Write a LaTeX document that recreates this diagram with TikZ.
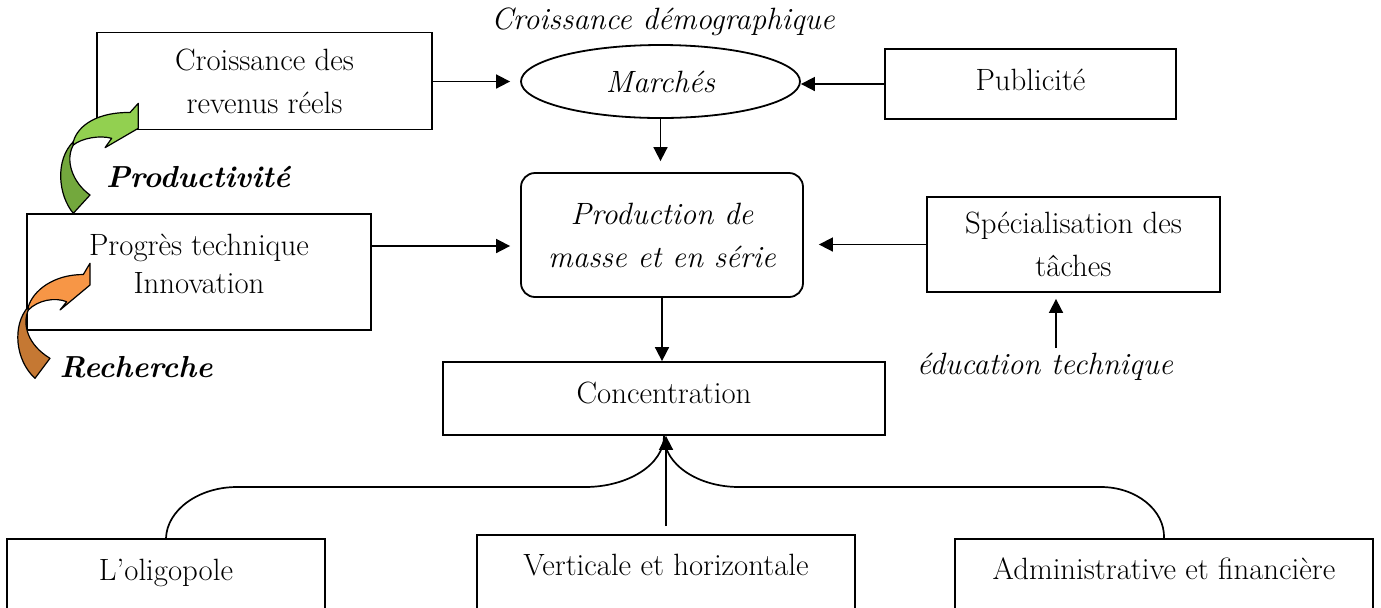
\documentclass[tikz,border=0pt]{standalone}
\usetikzlibrary{arrows.meta,shapes.geometric}
\definecolor{vertclair}{HTML}{92D050}
\definecolor{vertfonce}{HTML}{73A83D}
\definecolor{orangeclair}{HTML}{F79646}
\definecolor{orangefonce}{HTML}{C57833}
\begin{document}
\begin{tikzpicture}[
        x=0.5pt, y=-0.5pt,
        texte/.style={font=\fontsize{15.4}{21.5}\selectfont},
        italique/.style={font=\fontsize{15.4}{21.5}\selectfont\itshape},
        grasit/.style={font=\fontsize{15.2}{21.5}\selectfont\bfseries\itshape},
        boite/.style={texte, shape=rectangle, draw=black, line width=0.9pt, align=center, inner sep=0pt},
        bas/.style={boite, anchor=base, text height=20.5pt, text depth=30pt},
        fleche/.style={line width=0.85pt, -{Triangle[length=7pt,width=7pt]}},
        lien/.style={line width=0.85pt},
        courbe/.style={draw=black, line width=0.6pt, line join=round},
    ]
    \useasboundingbox (0,0) rectangle (1381,607);

    \node[boite, minimum width=167.5pt, minimum height=48.5pt] (rev) at (264.5,81) {Croissance des\\revenus réels};
    \node[boite, ellipse, italique, minimum width=139.5pt, minimum height=36.5pt] (march) at (660.5,81.5) {Marchés};
    \node[italique] (demo) at (663,22) {Croissance démographique};
    \node[boite, minimum width=145.5pt, minimum height=35pt, text depth=4pt] (pub) at (1030.5,84) {Publicité};
    \node[boite, italique, rounded corners=7pt, minimum width=141pt, minimum height=62pt] (prod) at (662,235) {Production de\\masse et en série};
    \node[boite, minimum width=172pt, minimum height=58pt] (prog) at (199,272) {Progrès technique\\[-2.5pt]Innovation\\[-13.5pt]\mbox{}};
    \node[boite, minimum width=146.5pt, minimum height=47.5pt] (spec) at (1073.5,244.5) {Spécialisation des\\tâches};
    \node[boite, minimum width=221pt, minimum height=36.5pt, text depth=6pt] (conc) at (664,398.5) {Concentration};
    \node[italique] (educ) at (1045,367) {éducation technique};
    \node[grasit] (product) at (198,177) {Productivité};
    \node[grasit] (rech) at (136,367) {Recherche};

    \node[bas, minimum width=159pt] (olig) at (166,580) {L'oligopole};
    \node[bas, minimum width=189pt, text height=20pt] (vert) at (666,575) {Verticale et horizontale};
    \node[bas, minimum width=209pt, text height=20pt] (admin) at (1164,579) {Administrative et financière};

    \draw[fleche, shorten >=5pt] (march.west -| rev.east) -- (march.west);
    \draw[fleche] (pub.west) -- (pub.west -| march.east);
    \draw[fleche, shorten >=5.5pt] (march.south) -- (march.south |- prod.north);
    \draw[fleche, shorten >=5pt] ([yshift=13pt]prog.east) -- ([yshift=13pt]prog.east -| prod.west);
    \draw[fleche, shorten >=7.5pt] (spec.west) -- (spec.west -| prod.east);
    \draw[fleche] (prod.south) -- (prod.south |- conc.north);
    \draw[fleche, shorten <=-1pt, shorten >=3pt] ([xshift=5.5pt]educ.north) -- ([xshift=5.5pt]educ.north |- spec.south);

    % accolade vers la concentration
    \draw[lien] (olig.north) .. controls (167,510) and (198.5,487) .. (237,487) -- (585,487)
        .. controls (628,487) and (664,464.5) .. (conc.south)
        .. controls (664,464.5) and (698,487) .. (739,487) -- (1101,487)
        .. controls (1136,487) and (1165,510) .. (admin.north);
    \draw[fleche, shorten <=4pt] (vert.north) -- (vert.north |- conc.south);

    % fleches courbes
    \draw[courbe, fill=vertfonce] (73.3,213.3) .. controls (58,195) and (55,160) .. (73.3,141.7)
        -- (73.3,145) .. controls (65,160) and (72,182) .. (90,195) -- cycle;
    \draw[courbe, fill=vertclair] (73.3,141.7) .. controls (78,125) and (98,112) .. (130,112.5)
        -- (138.3,103.3) -- (138.3,128.3) -- (105,147.7) -- (111.7,138.3)
        .. controls (100,135) and (82,138) .. (73.3,145) -- cycle;
    \draw[courbe, fill=orangefonce] (35,378.3) .. controls (15,360) and (12,325) .. (28.3,306.7)
        -- (28.3,310) .. controls (22,325) and (28,345) .. (50,358.3) -- cycle;
    \draw[courbe, fill=orangeclair] (28.3,306.7) .. controls (33,291) and (53,274.5) .. (83.3,274.5)
        -- (90,263.3) -- (90,285) -- (60,310) -- (66.7,301.7)
        .. controls (55,297) and (38,300) .. (28.3,310) -- cycle;
\end{tikzpicture}
\end{document}
